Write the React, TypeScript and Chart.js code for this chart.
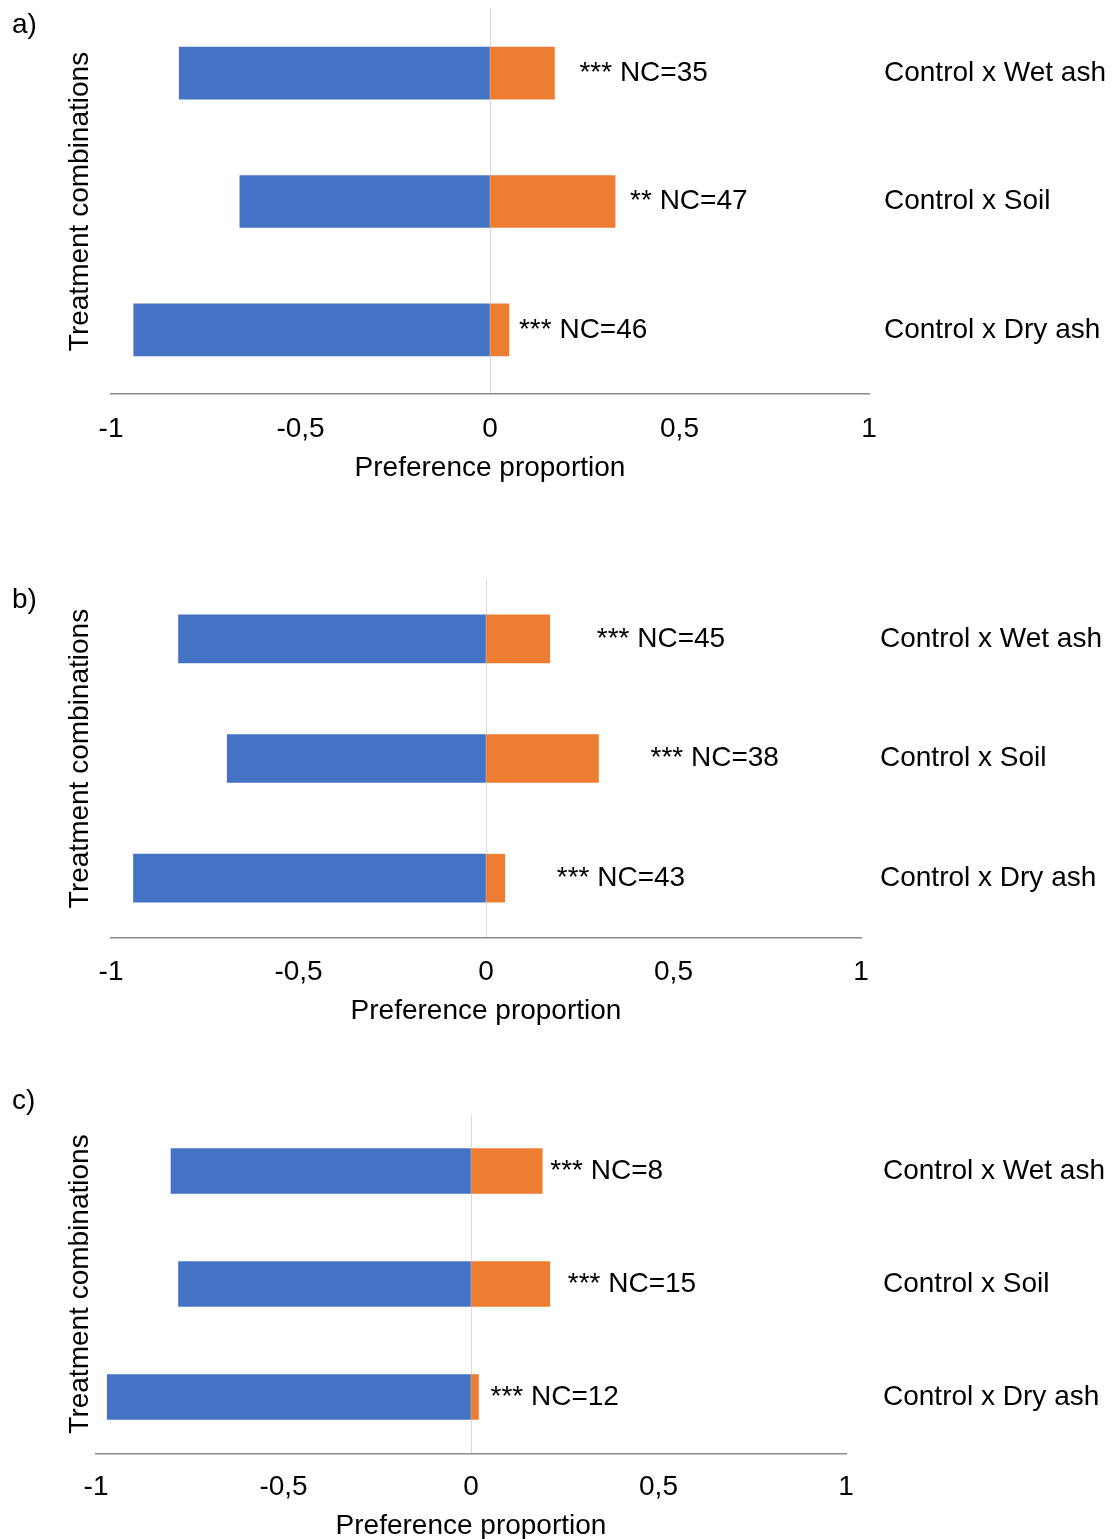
import React, { useEffect, useRef } from 'react';
import { Chart, registerables } from 'chart.js';

Chart.register(...registerables);

// Treatment pairs shown on every panel (top to bottom)
const CATEGORIES = ['Control x Wet ash', 'Control x Soil', 'Control x Dry ash'];
const X_TICKS = [-1, -0.5, 0, 0.5, 1];

// a) preference proportions: control side (negative) vs. treatment side (positive)
const CONTROL_A = [-0.82, -0.66, -0.94];
const TREATMENT_A = [0.17, 0.33, 0.05];
const NOTES_A = ['*** NC=35', '** NC=47', '*** NC=46'];

// b)
const CONTROL_B = [-0.82, -0.69, -0.94];
const TREATMENT_B = [0.17, 0.3, 0.05];
const NOTES_B = ['*** NC=45', '*** NC=38', '*** NC=43'];

// c)
const CONTROL_C = [-0.8, -0.78, -0.97];
const TREATMENT_C = [0.19, 0.21, 0.02];
const NOTES_C = ['*** NC=8', '*** NC=15', '*** NC=12'];

const FONT = "'Liberation Sans', Arial, sans-serif";
const FONT_SIZE = 28;
const BLUE = '#4472C4';
const ORANGE = '#ED7D31';
const PAGE_W = 1113;

type Panel = {
  letter: string;
  control: number[];
  treatment: number[];
  notes: string[];
  top: number;
  height: number;
  left: number;
  right: number;
  areaTop: number;
  areaBottom: number;
  bar: number;
  tickPad: number;
  titlePadBottom: number;
  catPad: number;
  noteGaps: number[];
  letterY: number;
};

const PANELS: Panel[] = [
  {
    letter: 'a)', control: CONTROL_A, treatment: TREATMENT_A, notes: NOTES_A,
    top: 0, height: 500, left: 111, right: 869, areaTop: 9, areaBottom: 394,
    bar: 52, tickPad: 18, titlePadBottom: 15, catPad: 15, noteGaps: [25, 15, 10], letterY: 33,
  },
  {
    letter: 'b)', control: CONTROL_B, treatment: TREATMENT_B, notes: NOTES_B,
    top: 540, height: 500, left: 111, right: 861, areaTop: 39, areaBottom: 398,
    bar: 48, tickPad: 17, titlePadBottom: 12, catPad: 19, noteGaps: [47, 52, 52], letterY: 68,
  },
  {
    letter: 'c)', control: CONTROL_C, treatment: TREATMENT_C, notes: NOTES_C,
    top: 1060, height: 479, left: 96, right: 846, areaTop: 54.5, areaBottom: 393.5,
    bar: 45, tickPad: 17, titlePadBottom: -4, catPad: 37, noteGaps: [8, 18, 12], letterY: 49,
  },
];

// Significance / sample-size notes written just past the end of each treatment bar
const notesPlugin = {
  id: 'notes',
  afterDatasetsDraw(chart: any, _args: any, opts: any) {
    const { ctx } = chart;
    const meta = chart.getDatasetMeta(1);
    ctx.save();
    ctx.font = `${FONT_SIZE}px ${FONT}`;
    ctx.fillStyle = '#000';
    ctx.textAlign = 'left';
    ctx.textBaseline = 'middle';
    meta.data.forEach((bar: any, i: number) => {
      ctx.fillText(opts.notes[i], bar.x + opts.gaps[i], bar.y);
    });
    ctx.restore();
  },
};

// Panel letter and the rotated left-hand axis title
const framePlugin = {
  id: 'frame',
  afterDraw(chart: any, _args: any, opts: any) {
    const { ctx, chartArea } = chart;
    ctx.save();
    ctx.font = `${FONT_SIZE}px ${FONT}`;
    ctx.fillStyle = '#000';
    ctx.textAlign = 'left';
    ctx.textBaseline = 'alphabetic';
    ctx.fillText(opts.letter, 12, opts.letterY);
    ctx.translate(88, (chartArea.top + chartArea.bottom) / 2);
    ctx.rotate(-Math.PI / 2);
    ctx.textAlign = 'center';
    ctx.fillText('Treatment combinations', 0, 0);
    ctx.restore();
  },
};

function PreferenceChart({ panel }: { panel: Panel }) {
  const ref = useRef<HTMLCanvasElement>(null);

  useEffect(() => {
    if (!ref.current) return;
    const xHeight = panel.height - panel.areaBottom;
    const yWidth = PAGE_W - panel.right;
    const chart = new Chart(ref.current, {
      type: 'bar',
      data: {
        labels: CATEGORIES,
        datasets: [
          {
            label: 'Control',
            data: panel.control,
            backgroundColor: BLUE,
            barThickness: panel.bar,
          },
          {
            label: 'Treatment',
            data: panel.treatment,
            backgroundColor: ORANGE,
            barThickness: panel.bar,
          },
        ],
      },
      options: {
        indexAxis: 'y',
        responsive: false,
        animation: false,
        layout: {
          padding: { left: panel.left, top: panel.areaTop, right: 0, bottom: 0 },
        },
        plugins: {
          legend: { display: false },
          tooltip: { enabled: false },
          notes: { notes: panel.notes, gaps: panel.noteGaps },
          frame: { letter: panel.letter, letterY: panel.letterY },
        } as any,
        scales: {
          x: {
            type: 'linear',
            stacked: true,
            min: -1,
            max: 1,
            afterBuildTicks: (scale: any) => {
              scale.ticks = X_TICKS.map((v) => ({ value: v }));
            },
            afterFit: (scale: any) => {
              scale.height = xHeight;
              scale.paddingLeft = 0;
              scale.paddingRight = 0;
            },
            grid: {
              drawTicks: false,
              color: (c: any) => (c.tick && c.tick.value === 0 ? '#d9d9d9' : 'rgba(0,0,0,0)'),
              lineWidth: 1,
            },
            border: { display: true, color: '#8a8a8a', width: 1.5 },
            ticks: {
              padding: panel.tickPad,
              color: '#000',
              font: { family: FONT, size: FONT_SIZE },
              callback: (v: any) => String(v).replace('.', ','),
            },
            title: {
              display: true,
              text: 'Preference proportion',
              color: '#000',
              font: { family: FONT, size: FONT_SIZE },
              padding: { top: 0, bottom: panel.titlePadBottom },
            },
          },
          y: {
            type: 'category',
            position: 'right',
            stacked: true,
            afterFit: (scale: any) => {
              scale.width = yWidth;
              scale.paddingTop = 0;
              scale.paddingBottom = 0;
            },
            grid: { display: false, drawTicks: false },
            border: { display: false },
            ticks: {
              padding: panel.catPad,
              color: '#000',
              font: { family: FONT, size: FONT_SIZE },
            },
          },
        },
      } as any,
      plugins: [notesPlugin, framePlugin] as any,
    });
    return () => chart.destroy();
  }, [panel]);

  return (
    <canvas
      ref={ref}
      width={PAGE_W}
      height={panel.height}
      style={{ position: 'absolute', left: 0, top: panel.top, display: 'block' }}
    />
  );
}

export default function App() {
  return (
    <div
      style={{
        position: 'absolute',
        left: 0,
        top: 0,
        width: PAGE_W,
        height: 1539,
        background: '#fff',
        overflow: 'hidden',
      }}
    >
      {PANELS.map((p) => (
        <PreferenceChart key={p.letter} panel={p} />
      ))}
    </div>
  );
}
